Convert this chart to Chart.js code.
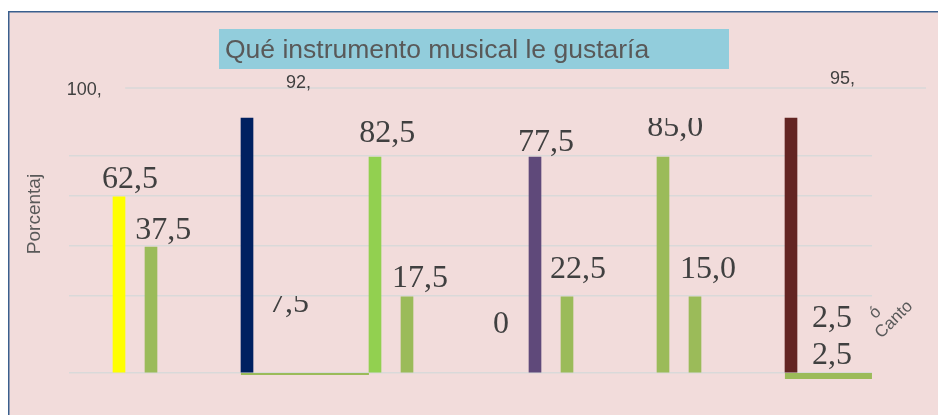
<!DOCTYPE html>
<html><head><meta charset="utf-8">
<script src="https://cdn.jsdelivr.net/npm/chart.js@4.4.0/dist/chart.umd.min.js"></script>
<style>html,body{margin:0;padding:0;background:#fff;overflow:hidden;} #wrap{width:938px;height:415px;}</style>
</head><body><div id="wrap"><canvas id="c" width="938" height="415"></canvas></div>
<script>
// ---- data ----
const chartTitle = 'Qué instrumento musical le gustaría';
const axisTitle = 'Porcentaj';
// bar slots on the horizontal scale and bar heights on the value scale
const barSlots  = [0, 1, 4, 8, 9, 13, 14, 17, 18, 21];
const barValues = [61.8, 44.2, 89.5, 75.8, 26.7, 75.8, 26.7, 75.8, 26.7, 89.5];
// flat (lying) green bars: start slot, end slot, level
const flatStart = [3.81, 20.81];
const flatEnd   = [7.81, 23.53];
const flatValue = [-0.35, -1.05];
// gridline values
const gridValues = [0, 27.0, 44.6, 62.1, 76.1];
const topLineValue = 100;
const topLineSpan = [0.19, 25.22];
// value labels and where they sit (slot, value)
const labelTexts  = ['62,5','37,5','7,5','82,5','17,5','0','77,5','22,5','85,0','15,0','2,5','2,5'];
const labelSlots  = [0.34, 1.38, 5.31, 8.38, 9.41, 11.94, 13.34, 14.34, 17.38, 18.41, 22.28, 22.28];
const labelValues = [64.9, 47.0, 21.4, 81.1, 30.2, 14.0, 77.9, 33.3, 83.2, 33.3, 16.1, 3.2];
const labelClipAt = [null, null, 27.0, null, null, null, null, null, 89.5, null, null, null];
// small truncated labels
const smallTexts  = ['100,', '92,', '95,'];
const smallSlots  = [-1.63, 5.22, 22.22];
const smallValues = [97.5, 100.0, 101.4];
// rotated category labels
const catTexts  = ['ó', 'Canto'];
const catSlots  = [23.63, 23.82];
const catValues = [18.8, 11.9];

// ---- styles ----
const barColors = ['#FFFF00','#9BBB59','#002060','#92D050','#9BBB59','#5F497A','#9BBB59','#9BBB59','#9BBB59','#632523'];
const flatWidths = [2, 6];
const SANS = "'Liberation Sans', Arial, sans-serif";
const SERIF = "'Liberation Serif', 'Times New Roman', serif";

const bgPlugin = {
  id: 'bg',
  beforeDraw(chart) {
    const c = chart.ctx;
    c.save();
    c.fillStyle = '#FFFFFF';
    c.fillRect(0, 0, chart.width, chart.height);
    c.fillStyle = '#F2DCDB';
    c.fillRect(8, 11, chart.width - 8, chart.height - 11);
    c.strokeStyle = '#3A5F8E';
    c.lineWidth = 1.5;
    c.beginPath();
    c.moveTo(8.75, chart.height);
    c.lineTo(8.75, 11.75);
    c.lineTo(chart.width, 11.75);
    c.stroke();
    // title box + title
    c.fillStyle = '#92CDDC';
    c.fillRect(219, 29, 510, 40);
    c.fillStyle = '#595959';
    c.font = '26.5px ' + SANS;
    c.textAlign = 'left';
    c.textBaseline = 'alphabetic';
    c.fillText(chartTitle, 225, 58);
    c.restore();
  }
};

const labelPlugin = {
  id: 'labels',
  afterDatasetsDraw(chart) {
    const c = chart.ctx, xs = chart.scales.x, ys = chart.scales.y;
    c.save();
    c.fillStyle = '#404040';
    c.textAlign = 'center';
    c.textBaseline = 'alphabetic';
    c.font = '32px ' + SERIF;
    labelTexts.forEach((t, i) => {
      c.save();
      if (labelClipAt[i] !== null) {
        const top = ys.getPixelForValue(labelClipAt[i]);
        c.beginPath();
        c.rect(0, top, chart.width, chart.height - top);
        c.clip();
      }
      c.fillText(t, xs.getPixelForValue(labelSlots[i]), ys.getPixelForValue(labelValues[i]));
      c.restore();
    });
    c.font = '18px ' + SANS;
    c.textAlign = 'left';
    smallTexts.forEach((t, i) => {
      c.fillText(t, xs.getPixelForValue(smallSlots[i]), ys.getPixelForValue(smallValues[i]));
    });
    c.fillStyle = '#595959';
    c.font = '17px ' + SANS;
    catTexts.forEach((t, i) => {
      c.save();
      c.translate(xs.getPixelForValue(catSlots[i]), ys.getPixelForValue(catValues[i]));
      c.rotate(-Math.PI / 4);
      c.fillText(t, 0, 0);
      c.restore();
    });
    c.restore();
  }
};

const datasets = [
  {
    type: 'bar',
    data: barSlots.map((s, i) => ({x: s, y: barValues[i]})),
    backgroundColor: barColors,
    borderWidth: 0,
    barThickness: 12,
    order: 3
  },
  ...flatStart.map((s, i) => ({
    type: 'line',
    data: [{x: s, y: flatValue[i]}, {x: flatEnd[i], y: flatValue[i]}],
    borderColor: '#9BBB59',
    borderWidth: flatWidths[i],
    borderCapStyle: 'butt',
    pointRadius: 0,
    clip: false,
    order: 1
  })),
  {
    type: 'line',
    data: topLineSpan.map(x => ({x: x, y: topLineValue})),
    borderColor: '#D9D9D9',
    borderWidth: 1.5,
    pointRadius: 0,
    clip: false,
    order: 2
  }
];

new Chart(document.getElementById('c'), {
  type: 'bar',
  data: {datasets},
  options: {
    responsive: false,
    animation: false,
    devicePixelRatio: 1,
    layout: {padding: {left: 8, top: 55, right: 66, bottom: 42}},
    plugins: {legend: {display: false}, tooltip: {enabled: false}, title: {display: false}},
    scales: {
      x: {type: 'linear', min: -1.5625, max: 23.53125, offset: false, display: false},
      y: {
        min: 0, max: 111.6,
        afterBuildTicks: s => { s.ticks = gridValues.map(v => ({value: v})); },
        ticks: {display: false},
        grid: {color: '#D9D9D9', lineWidth: 1.5, drawTicks: false},
        border: {display: false},
        title: {
          display: true, text: axisTitle, color: '#595959',
          font: {family: SANS, size: 19, lineHeight: 1.2},
          padding: {top: 15.6, bottom: 22.6}
        }
      }
    }
  },
  plugins: [bgPlugin, labelPlugin]
});
</script>
</body></html>
